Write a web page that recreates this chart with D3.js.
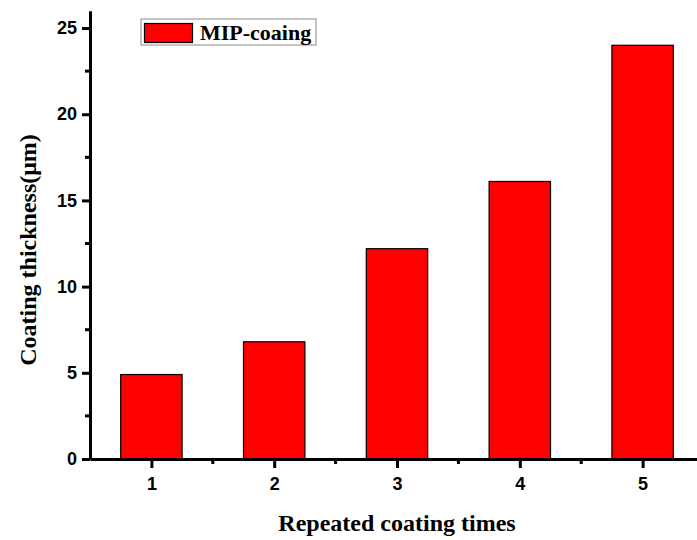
<!DOCTYPE html>
<html>
<head>
<meta charset="utf-8">
<script src="https://cdn.jsdelivr.net/npm/d3@7"></script>
<style>
  body { margin: 0; background: #fff; }
  svg { display: block; }
  .tick text { font-family: "Liberation Sans", Arial, sans-serif; font-weight: bold; font-size: 18px; fill: #000; }
</style>
</head>
<body>
<svg width="697" height="540"></svg>
<script>
// repeated coating vs thickness
const times = [1, 2, 3, 4, 5];
const thickness = [4.9, 6.8, 12.2, 16.1, 24.0];
const yTicks = [0, 5, 10, 15, 20, 25];
const seriesName = 'MIP-coaing';

const svg = d3.select('svg');
const left = 90, bottom = 459;

const x = d3.scaleLinear().domain([0.5, 5.5]).range([left, left + 614]);
const y = d3.scaleLinear().domain([0, 26]).range([bottom, bottom - 448.2]);

// bars
svg.selectAll('rect.bar')
  .data(times)
  .enter().append('rect')
    .attr('class', 'bar')
    .attr('x', (d) => x(d - 0.25))
    .attr('width', x(1.5) - x(1))
    .attr('y', (d, i) => y(thickness[i]))
    .attr('height', (d, i) => y(0) - y(thickness[i]))
    .attr('fill', '#ff0000')
    .attr('stroke', '#000')
    .attr('stroke-width', 1.2);

// minor ticks
const yMinor = d3.range(2.5, 26, 5);
const xMinor = d3.range(1.5, 5.5, 1);
svg.append('g').selectAll('line')
  .data(yMinor).enter().append('line')
    .attr('x1', left - 5).attr('x2', left)
    .attr('y1', (d) => y(d)).attr('y2', (d) => y(d))
    .attr('stroke', '#000').attr('stroke-width', 3);
svg.append('g').selectAll('line')
  .data(xMinor).enter().append('line')
    .attr('x1', (d) => x(d)).attr('x2', (d) => x(d))
    .attr('y1', bottom).attr('y2', bottom + 5)
    .attr('stroke', '#000').attr('stroke-width', 3);

// axes
const yAxis = svg.append('g')
  .attr('transform', `translate(${left},0)`)
  .call(d3.axisLeft(y).tickValues(yTicks).tickFormat(d3.format('d')).tickSize(8).tickPadding(5).tickSizeOuter(0));
const xAxis = svg.append('g')
  .attr('transform', `translate(0,${bottom})`)
  .call(d3.axisBottom(x).tickValues(times).tickFormat(d3.format('d')).tickSize(9).tickPadding(9).tickSizeOuter(0));

[yAxis, xAxis].forEach(g => {
  g.select('.domain').attr('stroke-width', 3);
  g.selectAll('.tick line').attr('stroke-width', 3);
});

// axis titles
svg.append('text')
  .attr('x', 397).attr('y', 531)
  .attr('text-anchor', 'middle')
  .style('font-family', '"Liberation Serif", "Times New Roman", serif')
  .style('font-weight', 'bold').style('font-size', '24px')
  .text('Repeated coating times');

svg.append('text')
  .attr('transform', 'translate(36,250) rotate(-90)')
  .attr('text-anchor', 'middle')
  .style('font-family', '"Liberation Serif", "Times New Roman", serif')
  .style('font-weight', 'bold').style('font-size', '24px')
  .text('Coating thickness(\u03bcm)');

// legend
const lg = svg.append('g');
lg.append('rect')
  .attr('x', 141).attr('y', 19).attr('width', 175).attr('height', 26)
  .attr('fill', '#fff').attr('stroke', '#888').attr('stroke-width', 1);
lg.append('rect')
  .attr('x', 144.5).attr('y', 23.5).attr('width', 48).attr('height', 19)
  .attr('fill', '#ff0000').attr('stroke', '#000').attr('stroke-width', 1.2);
lg.append('text')
  .attr('x', 200).attr('y', 40)
  .style('font-family', '"Liberation Serif", "Times New Roman", serif')
  .style('font-weight', 'bold').style('font-size', '22px')
  .text(seriesName);
</script>
</body>
</html>
